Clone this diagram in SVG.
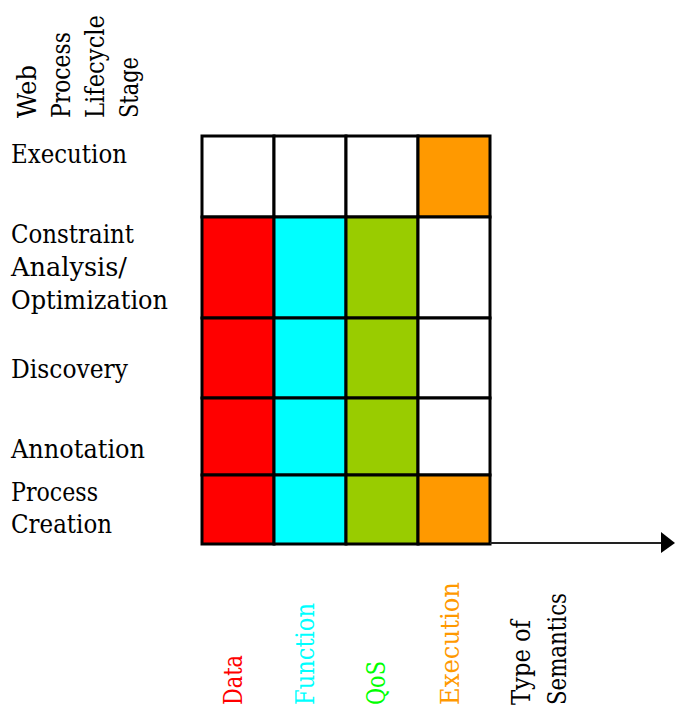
<svg xmlns="http://www.w3.org/2000/svg" width="675" height="708" viewBox="0 0 675 708">
<style>
text{font-family:"DejaVu Serif",serif;font-size:26px;fill:#000}
.c{stroke:#000;stroke-width:3}
.w{fill:#fff}.r{fill:#ff0000}.cy{fill:#00ffff}.g{fill:#99cc00}.o{fill:#ff9900}
</style>
<rect width="675" height="708" fill="#fff"/>
<g id="axis-title">
<text transform="translate(36,118) rotate(-90)" textLength="53" lengthAdjust="spacingAndGlyphs">Web</text>
<text transform="translate(70,118) rotate(-90)" textLength="86" lengthAdjust="spacingAndGlyphs">Process</text>
<text transform="translate(104,118) rotate(-90)" textLength="103" lengthAdjust="spacingAndGlyphs">Lifecycle</text>
<text transform="translate(138,118) rotate(-90)" textLength="61" lengthAdjust="spacingAndGlyphs">Stage</text>
</g>
<g id="row-labels">
<text x="11" y="163" textLength="116" lengthAdjust="spacingAndGlyphs">Execution</text>
<text x="11" y="243" textLength="123" lengthAdjust="spacingAndGlyphs">Constraint</text>
<text x="11" y="276" textLength="116" lengthAdjust="spacingAndGlyphs">Analysis/</text>
<text x="11" y="309" textLength="157" lengthAdjust="spacingAndGlyphs">Optimization</text>
<text x="11" y="378" textLength="117" lengthAdjust="spacingAndGlyphs">Discovery</text>
<text x="11" y="458" textLength="134" lengthAdjust="spacingAndGlyphs">Annotation</text>
<text x="11" y="501" textLength="87" lengthAdjust="spacingAndGlyphs">Process</text>
<text x="11" y="533" textLength="101" lengthAdjust="spacingAndGlyphs">Creation</text>
</g>
<g id="row-execution">
<rect class="c w" x="202" y="136" width="72" height="81"/>
<rect class="c w" x="274" y="136" width="72" height="81"/>
<rect class="c w" x="346" y="136" width="72" height="81"/>
<rect class="c o" x="418" y="136" width="72" height="81"/>
</g>
<g id="row-constraint">
<rect class="c r" x="202" y="217" width="72" height="101"/>
<rect class="c cy" x="274" y="217" width="72" height="101"/>
<rect class="c g" x="346" y="217" width="72" height="101"/>
<rect class="c w" x="418" y="217" width="72" height="101"/>
</g>
<g id="row-discovery">
<rect class="c r" x="202" y="318" width="72" height="80"/>
<rect class="c cy" x="274" y="318" width="72" height="80"/>
<rect class="c g" x="346" y="318" width="72" height="80"/>
<rect class="c w" x="418" y="318" width="72" height="80"/>
</g>
<g id="row-annotation">
<rect class="c r" x="202" y="398" width="72" height="77"/>
<rect class="c cy" x="274" y="398" width="72" height="77"/>
<rect class="c g" x="346" y="398" width="72" height="77"/>
<rect class="c w" x="418" y="398" width="72" height="77"/>
</g>
<g id="row-creation">
<rect class="c r" x="202" y="475" width="72" height="69"/>
<rect class="c cy" x="274" y="475" width="72" height="69"/>
<rect class="c g" x="346" y="475" width="72" height="69"/>
<rect class="c o" x="418" y="475" width="72" height="69"/>
</g>
<g id="connectors">
<line x1="490" y1="543" x2="662" y2="543" stroke="#222" stroke-width="2"/>
<polygon points="661,532 675,543 661,553" fill="#000"/>
</g>
<g id="column-labels">
<text transform="translate(242,705) rotate(-90)" textLength="50" lengthAdjust="spacingAndGlyphs" style="fill:#ff0000">Data</text>
<text transform="translate(314,705) rotate(-90)" textLength="102" lengthAdjust="spacingAndGlyphs" style="fill:#00ffff">Function</text>
<text transform="translate(385,705) rotate(-90)" textLength="44" lengthAdjust="spacingAndGlyphs" style="fill:#00ff00">QoS</text>
<text transform="translate(459,705) rotate(-90)" textLength="123" lengthAdjust="spacingAndGlyphs" style="fill:#ff9900">Execution</text>
<text transform="translate(530,705) rotate(-90)" textLength="85" lengthAdjust="spacingAndGlyphs">Type of</text>
<text transform="translate(566,705) rotate(-90)" textLength="112" lengthAdjust="spacingAndGlyphs">Semantics</text>
</g>
</svg>
